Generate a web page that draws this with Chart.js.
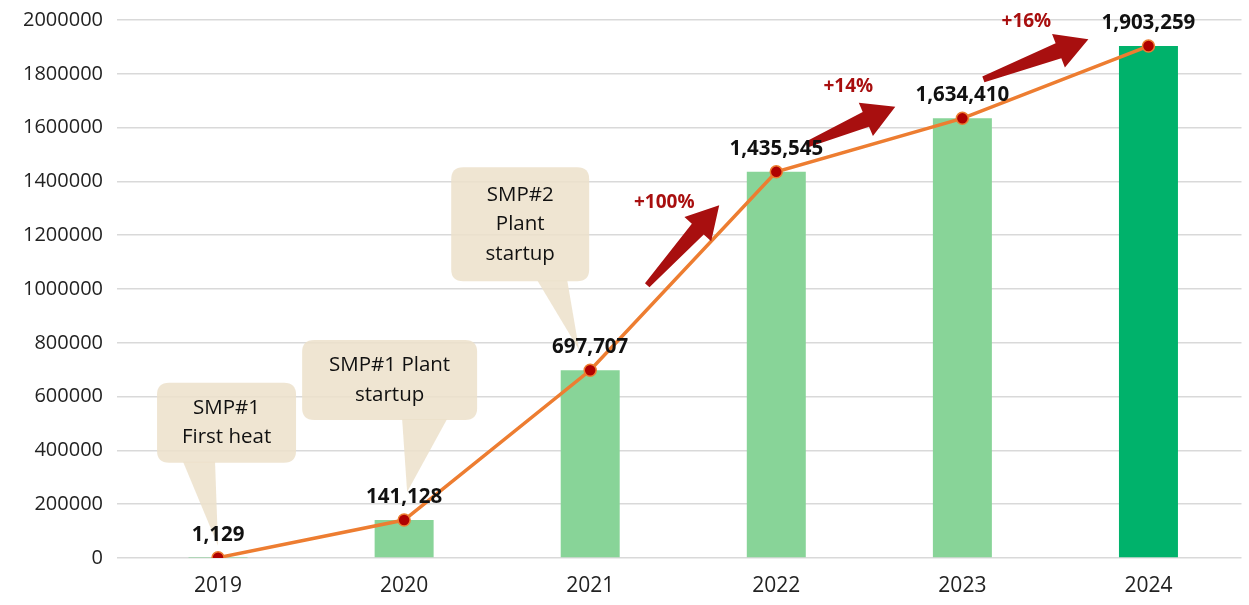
<!DOCTYPE html>
<html>
<head>
<meta charset="utf-8">
<script src="https://cdn.jsdelivr.net/npm/chart.js@4.4.1/dist/chart.umd.min.js"></script>
<style>
  html, body { margin: 0; padding: 0; background: #fff; }
  #wrap { width: 1249px; height: 605px; }
</style>
</head>
<body>
<div id="wrap"><canvas id="chart"></canvas></div>
<script>
// Datos del gráfico
const years = ['2019', '2020', '2021', '2022', '2023', '2024'];
const production = [1129, 141128, 697707, 1435545, 1634410, 1903259];
const barColors = ['#88d498', '#88d498', '#88d498', '#88d498', '#88d498', '#00b26b'];
const yTicks = [0, 200000, 400000, 600000, 800000, 1000000, 1200000, 1400000, 1600000, 1800000, 2000000];

// Globos de texto (índice del punto y líneas)
const callouts = [
    { index: 0, lines: ['SMP#1', 'First heat'] },
    { index: 1, lines: ['SMP#1 Plant', 'startup'] },
    { index: 2, lines: ['SMP#2', 'Plant', 'startup'] }
];
// Flechas de crecimiento (desde el punto index)
const growth = [
    { index: 2, text: '+100%' },
    { index: 3, text: '+14%' },
    { index: 4, text: '+16%' }
];

// Geometría de los globos, relativa al punto (px)
const calloutBoxes = [
    { l: -61, r: 78, t: -175, b: -95, p1: -35, p2: -3, tipX: 0, tipY: -12 },
    { l: -102, r: 73, t: -180, b: -100, p1: -2, p2: 43, tipX: 3, tipY: -28 },
    { l: -139, r: -1, t: -203, b: -89, p1: -53, p2: -23, tipX: -11, tipY: -20 }
];
// Geometría de las flechas, relativa al punto (px)
const arrowGeom = [
    { tx: 57, ty: -85, hx: 129, hy: -165, lx: 74, ly: -168 },
    { tx: 30, ty: -27, hx: 119, hy: -65, lx: 72, ly: -85 },
    { tx: 21, ty: -39, hx: 126, hy: -79, lx: 64, ly: -97 }
];

function formatNumber(v) {
    return v.toString().replace(/\B(?=(\d{3})+(?!\d))/g, ',');
}

function roundRect(ctx, x, y, w, h, r) {
    ctx.beginPath();
    ctx.moveTo(x + r, y);
    ctx.lineTo(x + w - r, y);
    ctx.quadraticCurveTo(x + w, y, x + w, y + r);
    ctx.lineTo(x + w, y + h - r);
    ctx.quadraticCurveTo(x + w, y + h, x + w - r, y + h);
    ctx.lineTo(x + r, y + h);
    ctx.quadraticCurveTo(x, y + h, x, y + h - r);
    ctx.lineTo(x, y + r);
    ctx.quadraticCurveTo(x, y, x + r, y);
    ctx.closePath();
}

function drawArrow(ctx, x1, y1, x2, y2) {
    const ang = Math.atan2(y2 - y1, x2 - x1);
    const len = Math.hypot(x2 - x1, y2 - y1);
    const headLen = 32, headW = 18, shaftEnd = 8, shaftStart = 3;
    ctx.save();
    ctx.translate(x1, y1);
    ctx.rotate(ang);
    ctx.beginPath();
    ctx.moveTo(0, -shaftStart);
    ctx.lineTo(len - headLen, -shaftEnd);
    ctx.lineTo(len - headLen, -headW);
    ctx.lineTo(len, 0);
    ctx.lineTo(len - headLen, headW);
    ctx.lineTo(len - headLen, shaftEnd);
    ctx.lineTo(0, shaftStart);
    ctx.closePath();
    ctx.fillStyle = '#a80f0f';
    ctx.fill();
    ctx.restore();
}

// Plugin para globos, flechas y etiquetas
const annotations = {
    id: 'annotations',
    afterDatasetsDraw(chart) {
        const ctx = chart.ctx;
        const pts = chart.getDatasetMeta(0).data;

        // Globos
        callouts.forEach((c, i) => {
            const g = calloutBoxes[i];
            const p = pts[c.index];
            const x = p.x, y = p.y;
            ctx.save();
            ctx.fillStyle = 'rgba(236, 224, 202, 0.85)';
            roundRect(ctx, x + g.l, y + g.t, g.r - g.l, g.b - g.t, 12);
            ctx.fill();
            ctx.beginPath();
            ctx.moveTo(x + g.p1, y + g.b - 1);
            ctx.lineTo(x + g.p2, y + g.b - 1);
            ctx.lineTo(x + g.tipX, y + g.tipY);
            ctx.closePath();
            ctx.fill();
            ctx.fillStyle = '#111';
            ctx.font = '20.5px "Open Sans"';
            ctx.textAlign = 'center';
            ctx.textBaseline = 'middle';
            const cx = x + (g.l + g.r) / 2;
            const cy = y + (g.t + g.b) / 2;
            const lh = 29.5;
            c.lines.forEach((line, k) => {
                ctx.fillText(line, cx, cy + (k - (c.lines.length - 1) / 2) * lh);
            });
            ctx.restore();
        });

        // Flechas
        growth.forEach((a, i) => {
            const g = arrowGeom[i];
            const p = pts[a.index];
            drawArrow(ctx, p.x + g.tx, p.y + g.ty, p.x + g.hx, p.y + g.hy);
            ctx.save();
            ctx.fillStyle = '#a80f0f';
            ctx.font = 'bold 19px "Open Sans"';
            ctx.textAlign = 'center';
            ctx.textBaseline = 'middle';
            ctx.fillText(a.text, p.x + g.lx, p.y + g.ly);
            ctx.restore();
        });

        // Etiquetas de valores
        ctx.save();
        ctx.fillStyle = '#111';
        ctx.font = 'bold 20.5px "Open Sans"';
        ctx.textAlign = 'center';
        ctx.textBaseline = 'middle';
        pts.forEach((p, i) => {
            ctx.fillText(formatNumber(production[i]), p.x, p.y - 23);
        });
        ctx.restore();
    }
};

const ctx = document.getElementById('chart').getContext('2d');
new Chart(ctx, {
    data: {
        labels: years,
        datasets: [
            {
                type: 'line',
                data: production,
                borderColor: '#ed7d31',
                borderWidth: 3.5,
                pointRadius: 6,
                pointBackgroundColor: '#b00000',
                pointBorderColor: '#ed7d31',
                pointBorderWidth: 1.5,
                tension: 0,
                order: 0
            },
            {
                type: 'bar',
                data: production,
                backgroundColor: barColors,
                barPercentage: 0.317,
                categoryPercentage: 1,
                order: 1
            }
        ]
    },
    options: {
        responsive: true,
        maintainAspectRatio: false,
        animation: false,
        layout: { padding: { top: 20, right: 6, left: 0, bottom: 0 } },
        plugins: {
            legend: { display: false },
            tooltip: { enabled: false }
        },
        scales: {
            x: {
                grid: { display: false },
                border: { display: false },
                ticks: { color: '#222', font: { family: 'Open Sans', size: 21 }, padding: 7 },
                afterFit(scale) { scale.height = 47; }
            },
            y: {
                min: 0,
                max: 2000000,
                afterBuildTicks(scale) { scale.ticks = yTicks.map(v => ({ value: v })); },
                grid: { color: '#d9d9d9', lineWidth: 1.5, drawTicks: true, tickLength: 8 },
                border: { display: false },
                ticks: {
                    color: '#222',
                    font: { family: 'Open Sans', size: 20 },
                    padding: 14,
                    callback: value => String(value)
                },
                afterFit(scale) {
                    scale.width = 125;
                    scale.paddingTop = 0;
                    scale.paddingBottom = 0;
                }
            }
        }
    },
    plugins: [annotations]
});
</script>
</body>
</html>
